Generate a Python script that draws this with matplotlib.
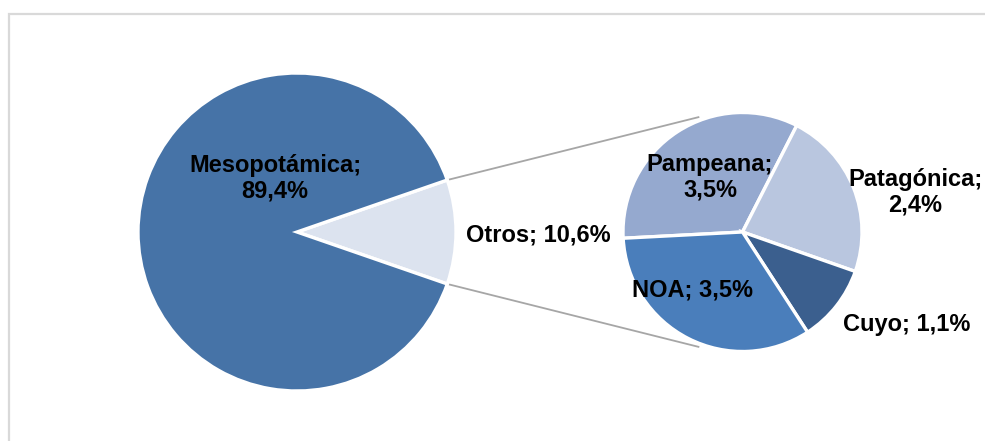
import numpy as np
import matplotlib.pyplot as plt
from matplotlib.patches import Rectangle

plt.rcParams['font.family'] = ['Liberation Sans', 'DejaVu Sans']

# main pie
main_labels = ["Otros", "Mesopotámica"]
main_values = [10.6, 89.4]
main_colors = ["#DCE3EF", "#4673A7"]

# breakdown of "Otros"
sub_labels = ["Pampeana", "Patagónica", "Cuyo", "NOA"]
sub_values = [3.5, 2.4, 1.1, 3.5]
sub_colors = ["#95A9CF", "#B9C6DF", "#3B5F8E", "#4A7EBB"]

W, H = 985, 441
fig = plt.figure(figsize=(W / 100, H / 100), dpi=100)
ax = fig.add_axes([0, 0, 1, 1])
ax.set_xlim(0, W)
ax.set_ylim(0, H)
ax.set_aspect('equal')
ax.axis('off')


def py(y):
    # pixel row -> data y
    return H - y


# chart border (runs off the right and bottom edges)
ax.add_patch(Rectangle((9, py(500)), 1200, 500 - 14, fill=False,
                       edgecolor="#D9D9D9", linewidth=1.6))

c1, r1 = (297, py(232)), 159
c2, r2 = (742.5, py(232)), 119.5

half = main_values[0] / 100 * 360 / 2
ax.pie(main_values, colors=main_colors, startangle=-half, center=c1,
       radius=r1, wedgeprops=dict(edgecolor="white", linewidth=2.4),
       frame=True)

ax.pie(sub_values, colors=sub_colors, startangle=183, counterclock=False,
       center=c2, radius=r2,
       wedgeprops=dict(edgecolor="white", linewidth=2.4), frame=True)
ax.set_xlim(0, W)
ax.set_ylim(0, H)
ax.axis('off')

# connector lines
for sgn in (1, -1):
    a1 = np.deg2rad(sgn * half)
    a2 = np.deg2rad(sgn * 111)
    x0, y0 = c1[0] + r1 * np.cos(a1), c1[1] + r1 * np.sin(a1)
    x1, y1 = c2[0] + 123 * np.cos(a2), c2[1] + 123 * np.sin(a2)
    ax.plot([x0, x1], [y0, y1], color="#A6A6A6", linewidth=1.3, zorder=0)

def pct(v):
    return f"{v:.1f}".replace(".", ",") + "%"

txt = dict(fontsize=17, fontweight='bold', ha='center', va='center',
           color='black', linespacing=1.15)

ax.text(275, py(178), f"{main_labels[1]};\n{pct(main_values[1])}", **txt)
ax.text(538, py(235), f"{main_labels[0]}; {pct(main_values[0])}", **txt)

sub_pos = [(710, 177, True), (915, 192, True), (907, 325, False),
           (692, 290, False)]
for lab, val, (x, y, two) in zip(sub_labels, sub_values, sub_pos):
    sep = ";\n" if two else "; "
    ax.text(x, py(y), f"{lab}{sep}{pct(val)}", **txt)

fig.savefig("out.png", dpi=100, facecolor="white")
